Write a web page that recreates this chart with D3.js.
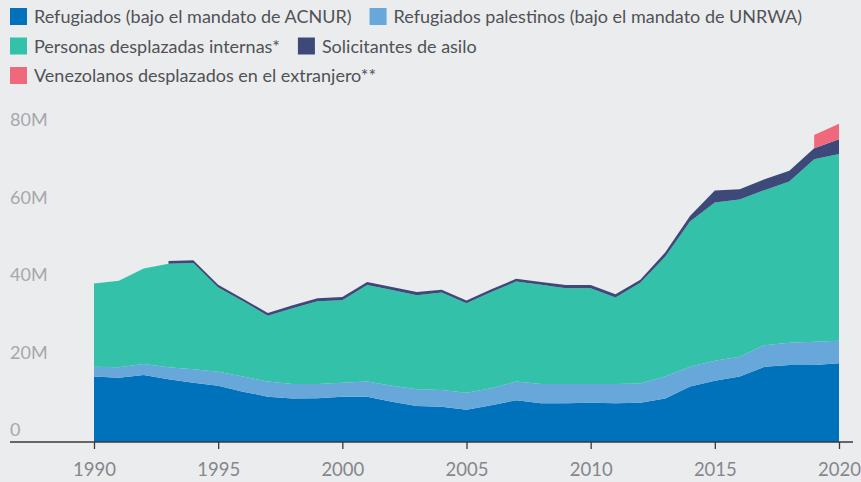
<!DOCTYPE html>
<html>
<head>
<meta charset="utf-8">
<script src="https://cdn.jsdelivr.net/npm/d3@7"></script>
<style>
  html, body { margin: 0; padding: 0; background: #EBECEE; }
  svg { display: block; font-family: Lato, "Open Sans", sans-serif; }
</style>
</head>
<body>
<svg id="chart" width="861" height="482"></svg>
<script>
// Years shown on the x axis
const years = [1990,1991,1992,1993,1994,1995,1996,1997,1998,1999,
               2000,2001,2002,2003,2004,2005,2006,2007,2008,2009,
               2010,2011,2012,2013,2014,2015,2016,2017,2018,2019,2020];

// Values in millions
const refugees = [16.9,16.6,17.3,16.2,15.3,14.5,13.0,11.7,11.2,11.3,
                  11.7,11.7,10.4,9.3,9.1,8.3,9.5,10.8,10.0,10.0,
                  10.1,10.0,10.1,11.2,14.3,15.8,16.9,19.4,19.9,19.9,20.3];
const palestinians = [2.5,2.7,2.8,3.1,3.5,3.6,3.9,3.9,3.8,3.7,
                      3.6,3.9,4.1,4.3,4.3,4.4,4.4,4.8,5.0,5.0,
                      4.9,5.0,5.0,5.7,5.1,5.2,5.1,5.6,5.7,6.0,5.8];
const idps = [21.5,22.3,24.7,26.7,27.4,21.8,19.4,17.0,19.5,21.3,
              21.3,24.9,24.7,24.3,25.2,23.1,24.8,25.8,25.6,24.7,
              24.7,22.3,26.0,30.9,37.5,40.8,40.6,40.0,41.6,47.1,48.2];
// null = no data for that year
const asylum = [null,null,null,0.7,0.7,0.7,0.7,0.7,0.8,0.8,
                0.8,0.8,0.8,0.8,0.7,0.7,0.7,0.7,0.7,0.8,
                0.8,0.8,0.8,1.1,1.4,3.1,2.6,2.8,2.8,2.8,3.8];
const venezuelans = [null,null,null,null,null,null,null,null,null,null,
                     null,null,null,null,null,null,null,null,null,null,
                     null,null,null,null,null,null,null,null,null,3.4,4.0];

const seriesNames = [
  "Refugiados (bajo el mandato de ACNUR)",
  "Refugiados palestinos (bajo el mandato de UNRWA)",
  "Personas desplazadas internas*",
  "Solicitantes de asilo",
  "Venezolanos desplazados en el extranjero**"
];
const seriesValues = [refugees, palestinians, idps, asylum, venezuelans];
const colors = ["#0072BC", "#67A7DA", "#33C2A9", "#3D4A79", "#F0687C"];

const yTicks = [0, 20, 40, 60, 80];
const xTicks = [1990, 1995, 2000, 2005, 2010, 2015, 2020];

const svg = d3.select("#chart");

// table built from the arrays
const keys = seriesNames.map((d, i) => "s" + i);
const table = years.map((yr, i) => {
    const row = { year: yr };
    seriesValues.forEach((vals, k) => { row[keys[k]] = vals[i] == null ? 0 : vals[i]; });
    return row;
});
const stacked = d3.stack().keys(keys)(table);

// Scales
const x = d3.scaleLinear().domain([1990, 2020]).range([94, 839]);
const y = d3.scaleLinear().domain([0, 80]).range([442, 132]);

// Areas
const area = d3.area()
    .x(d => x(d.data.year))
    .y0(d => y(d[0]))
    .y1(d => y(d[1]));

svg.append("g").selectAll("path")
    .data(stacked)
    .join("path")
    .attr("fill", (d, i) => colors[i])
    .attr("d", (layer, k) => area.defined((d, i) => seriesValues[k][i] != null)(layer));

// Y labels (no grid lines, labels sit above the value)
svg.append("g").selectAll("text")
    .data(yTicks)
    .join("text")
    .attr("x", 10)
    .attr("y", d => y(d) - 6)
    .attr("fill", "#A6A8AB")
    .attr("font-size", 18)
    .text(d => d === 0 ? "0" : d + "M");

// X axis
const xAxis = svg.append("g")
    .attr("transform", `translate(0,${y(0)})`)
    .call(d3.axisBottom(x).tickValues(xTicks).tickFormat(d3.format("d")).tickSize(7).tickPadding(13.5));
xAxis.select(".domain").remove();
xAxis.selectAll(".tick line").attr("stroke", "#3a3a3a").attr("stroke-width", 1.3);
xAxis.selectAll(".tick text")
    .attr("fill", "#85878A")
    .attr("font-size", 18.5)
    .attr("font-family", "Lato, sans-serif");
xAxis.append("line")
    .attr("x1", 10).attr("x2", 853)
    .attr("stroke", "#3a3a3a").attr("stroke-width", 1.3);

// Legend, flowing left to right and wrapping
const legend = svg.append("g");
let lx = 10, ly = 8;
const sw = 17, rowH = 29.5, gap = 18, maxX = 850;
seriesNames.forEach((name, i) => {
    const g = legend.append("g");
    g.append("rect").attr("width", sw).attr("height", sw).attr("fill", colors[i]);
    const t = g.append("text")
        .attr("x", sw + 7).attr("y", sw - 2)
        .attr("fill", "#505256")
        .attr("font-size", 18)
        .text(name);
    const w = sw + 7 + t.node().getComputedTextLength();
    if (lx + w > maxX) { lx = 10; ly += rowH; }
    g.attr("transform", `translate(${lx},${ly})`);
    lx += w + gap;
});
</script>
</body>
</html>
